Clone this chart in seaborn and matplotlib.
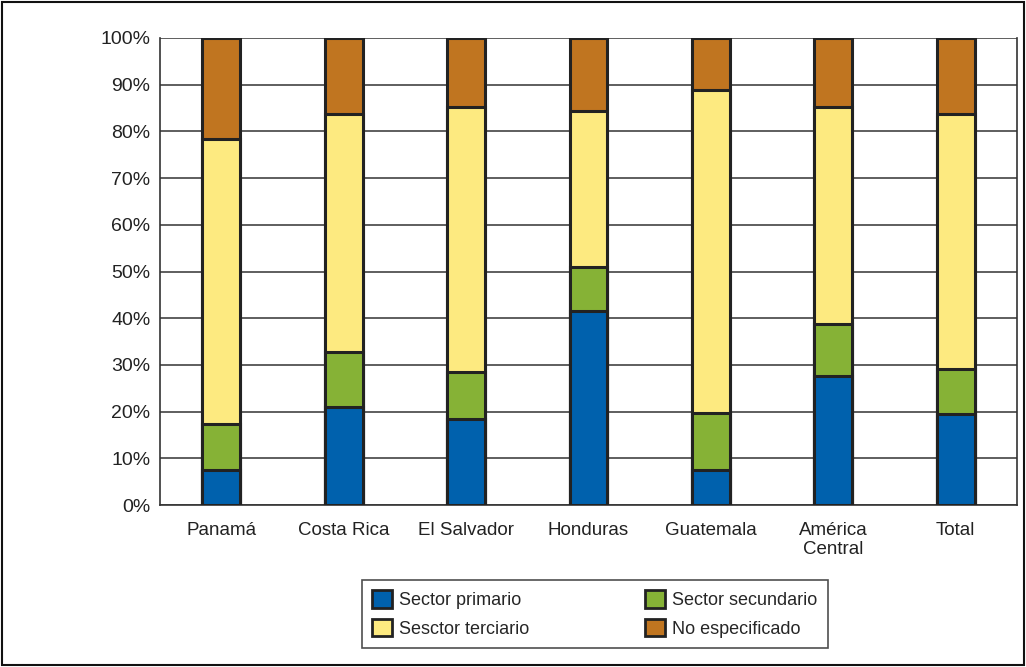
import numpy as np
import pandas as pd
import matplotlib.pyplot as plt
import matplotlib.patches as mpatches
import seaborn as sns

paises = ['Panamá', 'Costa Rica', 'El Salvador', 'Honduras', 'Guatemala', 'América\nCentral', 'Total']
primario = [7.5, 21.0, 18.4, 41.5, 7.5, 27.6, 19.5]
secundario = [9.8, 11.8, 10.1, 9.5, 12.2, 11.2, 9.6]
terciario = [61.1, 50.9, 56.7, 33.4, 69.2, 46.4, 54.6]
no_especificado = [21.6, 16.3, 14.8, 15.6, 11.1, 14.8, 16.3]

series = ['Sector primario', 'Sector secundario', 'Sesctor terciario', 'No especificado']
colores = ['#0061ad', '#86b236', '#fdea80', '#c07520']

sns.set_style('white')
plt.rcParams['font.family'] = ['Liberation Sans', 'DejaVu Sans']

df = pd.DataFrame({'pais': paises, 'Sector primario': primario, 'Sector secundario': secundario,
                   'Sesctor terciario': terciario, 'No especificado': no_especificado})
# acumulados para apilar (se dibuja de arriba hacia abajo)
acum = df[series].cumsum(axis=1)

fig = plt.figure(figsize=(10.26, 6.67), dpi=100)
ax = fig.add_axes([160 / 1026, 1 - 505 / 667, (1017 - 160) / 1026, (505 - 38) / 667])

for serie, color in reversed(list(zip(series, colores))):
    sns.barplot(x=df['pais'], y=acum[serie], color=color, saturation=1, width=0.31,
                edgecolor='#222222', linewidth=2.2, ax=ax, zorder=3)

ax.set_ylim(0, 100)
ax.set_xlim(-0.5, len(paises) - 0.5)
ax.set_yticks(np.arange(0, 101, 10))
ax.set_yticklabels([f'{v}%' for v in range(0, 101, 10)], fontsize=14, color='#222222')
ax.set_xticks(range(len(paises)))
ax.set_xticklabels(paises, fontsize=13.5, color='#222222')
ax.set_xticks(np.arange(-0.5, len(paises), 1), minor=True)
ax.tick_params(axis='x', which='major', length=0, pad=12)
ax.tick_params(axis='x', which='minor', length=8, width=1.2, color='#333333', direction='out')
ax.tick_params(axis='y', length=0, pad=7)
ax.yaxis.grid(True, color='#333333', linewidth=1.1, zorder=0)
ax.set_axisbelow(True)
ax.set_xlabel('')
ax.set_ylabel('')
for lado in ['left', 'right', 'bottom']:
    ax.spines[lado].set_visible(True)
    ax.spines[lado].set_color('#333333')
    ax.spines[lado].set_linewidth(1.2)
ax.spines['top'].set_visible(False)

handles = [mpatches.Patch(facecolor=c, edgecolor='#222222', linewidth=2) for c in colores]
orden = [0, 2, 1, 3]
leg = fig.legend([handles[i] for i in orden], [series[i] for i in orden],
                 loc='center', bbox_to_anchor=(595 / 1026, 1 - 614 / 667), ncol=2,
                 fontsize=13, frameon=True, fancybox=False, edgecolor='#222222',
                 handlelength=1.1, handleheight=1.1, handletextpad=0.4, columnspacing=6.4,
                 labelspacing=0.55, borderpad=0.55)
leg.get_frame().set_linewidth(1.2)

fig.patches.append(mpatches.Rectangle((0.002, 0.003), 0.996, 0.994, transform=fig.transFigure,
                                      fill=False, edgecolor='#111111', linewidth=1.5))

fig.savefig('out.png', dpi=100)
